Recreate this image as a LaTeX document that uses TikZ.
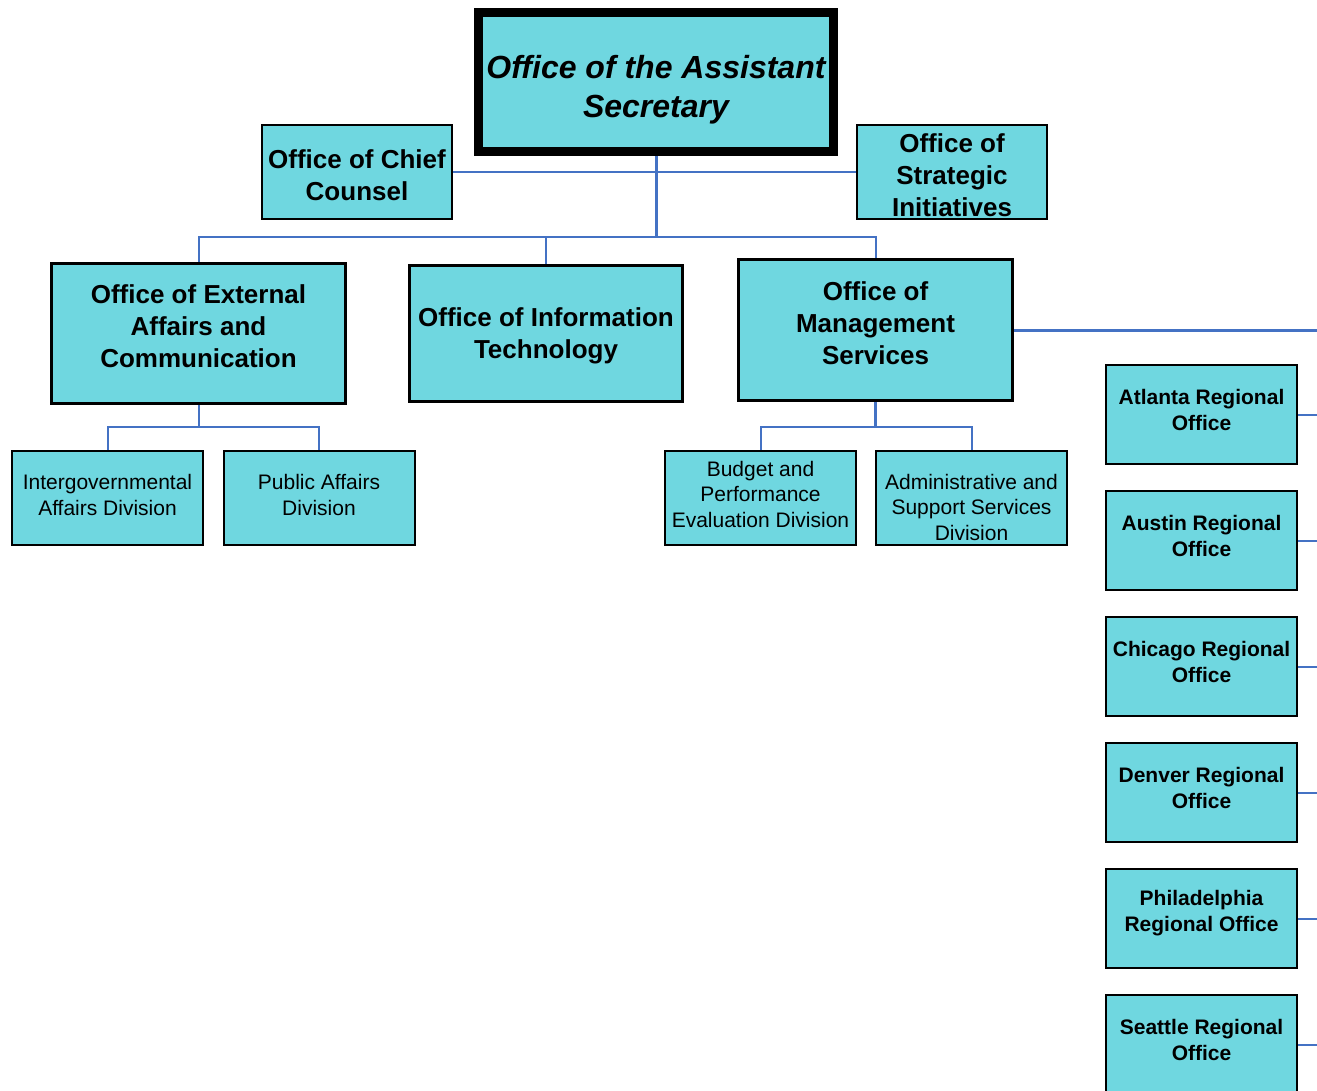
\documentclass[tikz,border=0pt]{standalone}
\usepackage{fontspec}
\setmainfont{Liberation Sans}
\usetikzlibrary{positioning}
\definecolor{boxcyan}{RGB}{111,215,224}
\definecolor{linkblue}{RGB}{68,114,196}
% move a box's text down (first line) or up (last line) by half of #1
\newcommand\pushdown[2]{\raisebox{#1}{\vphantom{#2}}#2}
\newcommand\pushup[2]{#2\raisebox{-#1}{\vphantom{#2}}}

\begin{document}
\begin{tikzpicture}[
    x=1pt, y=-1pt,
    base/.style={draw=black, fill=boxcyan, rectangle, align=center, inner sep=0pt},
    head/.style={base, line width=9pt, minimum width=355pt, minimum height=139pt, font=\fontsize{32}{39}\selectfont\bfseries\itshape},
    staff/.style={base, line width=2.5pt, minimum width=190pt, minimum height=94pt, font=\fontsize{26}{32}\selectfont\bfseries},
    office/.style={base, line width=3pt, minimum height=140pt, font=\fontsize{26}{32}\selectfont\bfseries},
    division/.style={base, line width=2pt, minimum width=191pt, minimum height=94pt, font=\fontsize{21}{25.5}\selectfont},
    region/.style={base, line width=2pt, minimum width=191pt, minimum height=99pt, font=\fontsize{21}{26}\selectfont\bfseries},
    link/.style={draw=linkblue, line width=2pt},
    trunk/.style={draw=linkblue, line width=3pt}
  ]
    \useasboundingbox (0,0) rectangle (1317,1091);
    % top of the chart
    \node[head] (asst) at (656,82) {\pushdown{16pt}{Office of the Assistant}\\Secretary};
    \node[staff] (chief) at (357,172) {\pushdown{6pt}{Office of Chief}\\Counsel};
    \node[staff] (strat) at (952,172) {\pushdown{6pt}{Office of}\\Strategic\\Initiatives};
    % offices
    \node[office, minimum width=294pt] (extaff) at (198.5,333.5)
    {Office of External\\Affairs and\\\pushup{14pt}{Communication}};
    \node[office, minimum width=273pt, minimum height=136pt] (infotech) at (546,333.5)
    {\pushdown{4pt}{Office of Information}\\Technology};
    \node[office, minimum width=274pt, minimum height=141pt] (mgmt) at (875.5,330)
    {Office of\\Management\\\pushup{14pt}{Services}};
    % divisions
    \node[division] (intergov) at (107.5,498) {Intergovernmental\\\pushup{6pt}{Affairs Division}};
    \node[division] (pubaff) at (319,498) {Public Affairs\\\pushup{6pt}{Division}};
    \node[division] (budget) at (760.5,498) {Budget and\\Performance\\\pushup{8pt}{Evaluation Division}};
    \node[division] (admin) at (971.5,498) {\pushdown{18pt}{Administrative and}\\Support Services\\Division};
    % regional offices
    \node[region] (atlanta) at (1201.5,414.5) {Atlanta Regional\\\pushup{10pt}{Office}};
    \node[region, below=25pt of atlanta] (austin) {Austin Regional\\\pushup{10pt}{Office}};
    \node[region, below=25pt of austin] (chicago) {Chicago Regional\\\pushup{10pt}{Office}};
    \node[region, below=25pt of chicago] (denver) {Denver Regional\\\pushup{10pt}{Office}};
    \node[region, below=25pt of denver] (philly) {Philadelphia\\\pushup{10pt}{Regional Office}};
    \node[region, below=25pt of philly] (seattle) {Seattle Regional\\\pushup{10pt}{Office}};

    \coordinate (topbus) at (656,237);
    \coordinate (extbus) at (198.5,427);
    \coordinate (mgmtbus) at (875.5,427);
    \coordinate (rim) at (1317,0);

    \draw[trunk] (asst.south) -- (topbus);
    \draw[link] (chief.east) -- (strat.west);
    \draw[link] (extaff.north) |- (topbus) -| (mgmt.north);
    \draw[link] (infotech.north) -- (infotech.north |- topbus);
    \draw[link] (extaff.south) -- (extbus);
    \draw[link] (intergov.north) |- (extbus) -| (pubaff.north);
    \draw[trunk] (mgmt.south) -- (mgmtbus);
    \draw[link] (budget.north) |- (mgmtbus) -| (admin.north);
    \draw[trunk] (mgmt.east) -- (mgmt.east -| rim);
    \foreach \r in {atlanta,austin,chicago,denver,philly,seattle}
      \draw[link] (\r.east) -- (\r.east -| rim);
  \end{tikzpicture}
\end{document}
